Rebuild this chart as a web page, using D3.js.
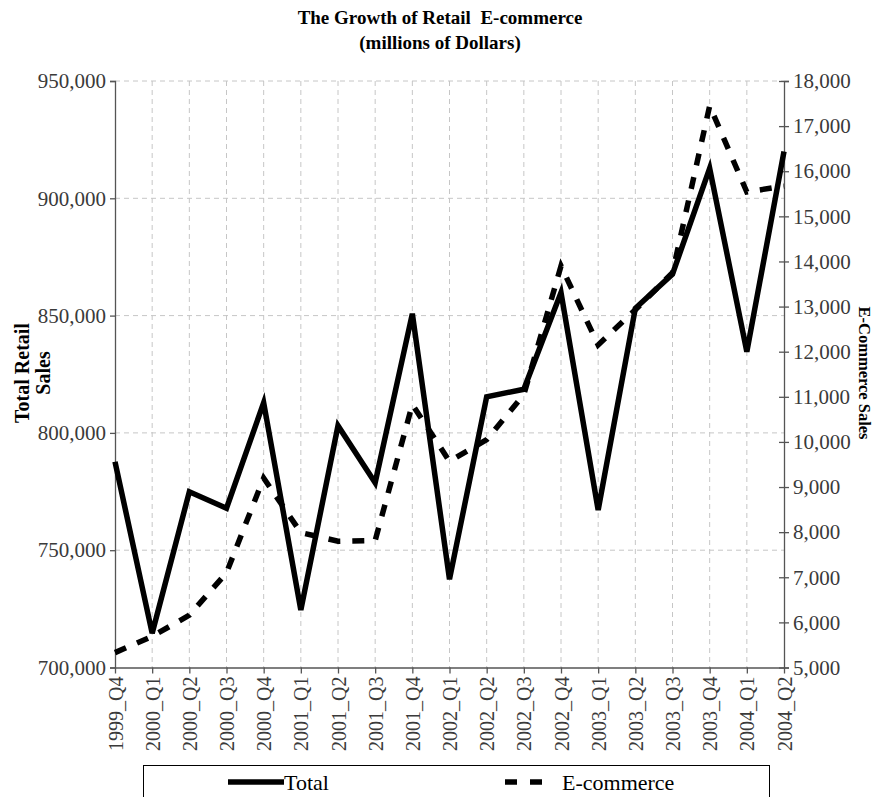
<!DOCTYPE html>
<html>
<head>
<meta charset="utf-8">
<script src="https://cdn.jsdelivr.net/npm/d3@7"></script>
<style>
  html, body { margin: 0; padding: 0; background: #fff; }
  svg { display: block; }
  text { font-family: "Liberation Serif", "Times New Roman", serif; }
</style>
</head>
<body>
<svg id="chart" width="875" height="797"></svg>
<script>
const categories = ["1999_Q4","2000_Q1","2000_Q2","2000_Q3","2000_Q4","2001_Q1","2001_Q2","2001_Q3","2001_Q4",
  "2002_Q1","2002_Q2","2002_Q3","2002_Q4","2003_Q1","2003_Q2","2003_Q3","2003_Q4","2004_Q1","2004_Q2"];
const totalSales = [787700, 714600, 774900, 767900, 812900, 724500, 803100, 778800, 850800,
  737600, 815400, 818600, 859800, 767100, 853100, 867700, 912800, 834600, 919900];
const ecommerceSales = [5330, 5690, 6160, 7100, 9200, 7990, 7800, 7815, 10830,
  9570, 10050, 11050, 13900, 12150, 12930, 13750, 17450, 15540, 15670];
const leftTicks = [700000, 750000, 800000, 850000, 900000, 950000];
const rightTicks = [5000, 6000, 7000, 8000, 9000, 10000, 11000, 12000, 13000, 14000, 15000, 16000, 17000, 18000];
const seriesNames = ["Total", "E-commerce"];
const titleLines = ["The Growth of Retail  E-commerce", "(millions of Dollars)"];

const svg = d3.select("#chart");
const L = 115, R = 784, T = 81, B = 667.5;

const x = d3.scalePoint().domain(categories).range([L, R]);
const yL = d3.scaleLinear().domain([700000, 950000]).range([B, T]);
const yR = d3.scaleLinear().domain([5000, 18000]).range([B, T]);
const fmt = d3.format(",");

// gridlines
const grid = svg.append("g");
grid.selectAll("line.v").data(categories.slice(1, -1)).join("line")
  .attr("x1", d => x(d)).attr("x2", d => x(d)).attr("y1", T).attr("y2", B)
  .attr("stroke", "#c6c6c6").attr("stroke-width", 1).attr("stroke-dasharray", "5,4");
grid.selectAll("line.h").data(leftTicks.slice(1)).join("line")
  .attr("x1", L).attr("x2", R).attr("y1", d => yL(d)).attr("y2", d => yL(d))
  .attr("stroke", "#c6c6c6").attr("stroke-width", 1).attr("stroke-dasharray", "5,4");

// axes
const axisColor = "#555";
const textColor = "#3a3a3a";
const gL = svg.append("g").attr("transform", `translate(${L},0)`)
  .call(d3.axisLeft(yL).tickValues(leftTicks).tickFormat(fmt).tickSize(5).tickPadding(4));
const gR = svg.append("g").attr("transform", `translate(${R},0)`)
  .call(d3.axisRight(yR).tickValues(rightTicks).tickFormat(fmt).tickSize(5).tickPadding(4));
gR.selectAll(".tick line").attr("x1", -5);
const gB = svg.append("g").attr("transform", `translate(0,${B})`)
  .call(d3.axisBottom(x).tickSize(6).tickSizeOuter(0));
[gL, gR, gB].forEach(g => {
  g.select(".domain").attr("stroke", axisColor).attr("stroke-width", 1.3);
  g.selectAll(".tick line").attr("stroke", axisColor).attr("stroke-width", 1.3);
  g.selectAll(".tick text").attr("fill", textColor)
    .style("font-family", "'Liberation Serif', serif").style("font-size", "21px");
});
gB.selectAll(".tick text")
  .attr("transform", "rotate(-90)")
  .attr("text-anchor", "end")
  .attr("x", -9).attr("y", 0).attr("dy", "0.35em")
  .style("font-size", "20px");

// lines
const lineTotal = d3.line().x((d, i) => x(categories[i])).y(d => yL(d));
const lineEcom = d3.line().x((d, i) => x(categories[i])).y(d => yR(d));
svg.append("path").datum(ecommerceSales).attr("d", lineEcom)
  .attr("fill", "none").attr("stroke", "#000").attr("stroke-width", 5.5)
  .attr("stroke-dasharray", "12,12").attr("stroke-linejoin", "miter");
svg.append("path").datum(totalSales).attr("d", lineTotal)
  .attr("fill", "none").attr("stroke", "#000").attr("stroke-width", 5.5)
  .attr("stroke-linejoin", "miter").attr("stroke-miterlimit", 4);

// title
svg.append("text").attr("x", 440).attr("y", 24).attr("text-anchor", "middle")
  .attr("xml:space", "preserve")
  .style("font-weight", "bold").style("font-size", "19px").text(titleLines[0]);
svg.append("text").attr("x", 440).attr("y", 49).attr("text-anchor", "middle")
  .style("font-weight", "bold").style("font-size", "19px").text(titleLines[1]);

// axis titles
const lt = svg.append("text").attr("transform", "translate(0,373) rotate(-90)")
  .attr("text-anchor", "middle").style("font-weight", "bold").style("font-size", "20px");
lt.append("tspan").attr("x", 0).attr("y", 29).text("Total Retail");
lt.append("tspan").attr("x", 0).attr("y", 50).text("Sales");
svg.append("text").attr("transform", "translate(859,373) rotate(90)")
  .attr("text-anchor", "middle").style("font-weight", "bold").style("font-size", "16.5px")
  .text("E-Commerce Sales");

// legend
const lg = svg.append("g");
lg.append("rect").attr("x", 143.5).attr("y", 765.5).attr("width", 626).attr("height", 40)
  .attr("fill", "#fff").attr("stroke", "#000").attr("stroke-width", 1);
lg.append("line").attr("x1", 228).attr("x2", 284).attr("y1", 782).attr("y2", 782)
  .attr("stroke", "#000").attr("stroke-width", 5.5);
lg.append("text").attr("x", 284).attr("y", 790).style("font-size", "22px").text(seriesNames[0]);
lg.append("line").attr("x1", 505).attr("x2", 543).attr("y1", 782).attr("y2", 782)
  .attr("stroke", "#000").attr("stroke-width", 5.5).attr("stroke-dasharray", "12,13");
lg.append("text").attr("x", 562).attr("y", 790).style("font-size", "22px").text(seriesNames[1]);
</script>
</body>
</html>
